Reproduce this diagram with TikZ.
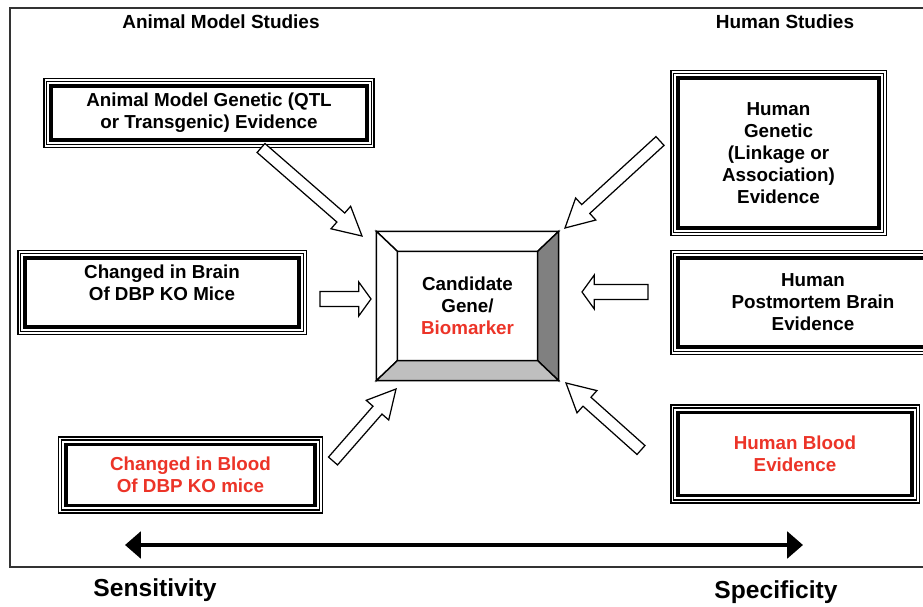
\documentclass[tikz,border=0pt]{standalone}
\usepackage{fontspec}
\setmainfont{Liberation Sans}
\usepackage{tikz}
\usetikzlibrary{calc,arrows.meta,positioning}
\definecolor{hired}{RGB}{236,52,40}

\begin{document}
\begin{tikzpicture}[
    x=0.02cm, y=-0.02cm,
    font=\fontsize{10.7}{12.5}\selectfont\bfseries,
    evidence/.style={
		rectangle,
		draw=black,
		double=white,
		double distance=0.6pt,
		line width=0.9pt,
		align=center,
		text centered,
		fill=white,
		path picture={
		  \draw[line width=1.9pt]
		    ([shift={(3.4pt,-3.4pt)}]path picture bounding box.north west) rectangle
		    ([shift={(-3.4pt,3.4pt)}]path picture bounding box.south east);
		}
	},
	bevel/.style={
		draw=black,
		line width=0.8pt
	},
	hollow/.style n args={3}{
		draw=black,
		line width=0.7pt,
		fill=white,
		to path={
		  ($(\tikztostart)!#1!90:(\tikztotarget)$)
		  -- ($($(\tikztotarget)!#3!(\tikztostart)$)!#1!90:(\tikztotarget)$)
		  -- ($($(\tikztotarget)!#3!(\tikztostart)$)!#2!90:(\tikztotarget)$)
		  -- (\tikztotarget)
		  -- ($($(\tikztotarget)!#3!(\tikztostart)$)!#2!-90:(\tikztotarget)$)
		  -- ($($(\tikztotarget)!#3!(\tikztostart)$)!#1!-90:(\tikztotarget)$)
		  -- ($(\tikztostart)!#1!-90:(\tikztotarget)$)
		  -- cycle
		}
	},
	heading/.style={
		font=\fontsize{10.8}{13}\selectfont\bfseries
	},
	axislabel/.style={
		font=\fontsize{14}{16}\selectfont\bfseries
	}
  ]

\useasboundingbox (0,0) rectangle (923,607);

% // frame
\draw[line width=0.9pt, black!80] (930,8) -- (10,8) -- (10,567) -- (930,567);

\node [heading] (animalhead) at (221,22) {Animal Model Studies};
\node [heading] (humanhead) at (785,22) {Human Studies};

% // animal side
\node [evidence, minimum width=6.56cm, minimum height=1.32cm] (gen) at (209,113)
 {Animal Model Genetic (QTL\\or Transgenic) Evidence};
\node [evidence, minimum width=5.72cm, minimum height=1.62cm,
 label={[align=center, yshift=5.5pt]center:{Changed in Brain\\Of DBP KO Mice}}] (brain) at (162,292.5) {};
\node [evidence, minimum width=5.22cm, minimum height=1.46cm, text=hired] (blood) at (190.5,475)
 {Changed in Blood\\Of DBP KO mice};

% // human side
\node [evidence, minimum width=4.26cm, minimum height=3.24cm] (hgen) at (778.5,153)
 {Human\\Genetic\\(Linkage or\\Association)\\Evidence};
\node [evidence, minimum width=5.64cm, minimum height=2.02cm] (pm) at (813,302.5)
 {Human\\Postmortem Brain\\Evidence};
\node [evidence, minimum width=4.92cm, minimum height=1.9cm, text=hired] (hblood) at (795,454)
 {Human Blood\\Evidence};

% // the candidate
\node [bevel, minimum width=3.62cm, minimum height=2.96cm, align=center] (cand) at (467.5,306)
 {Candidate\\Gene/\\\textcolor{hired}{Biomarker}};
\coordinate (cnw) at ($(cand.north west)+(21,20)$);
\coordinate (cne) at ($(cand.north east)+(-21,20)$);
\coordinate (cse) at ($(cand.south east)+(-21,-20)$);
\coordinate (csw) at ($(cand.south west)+(21,-20)$);
\draw [bevel, fill=white] (cand.north west) -- (cand.north east) -- (cne) -- (cnw) -- cycle;
\draw [bevel, fill=white] (cand.north west) -- (cnw) -- (csw) -- (cand.south west) -- cycle;
\draw [bevel, fill=black!50] (cand.north east) -- (cand.south east) -- (cse) -- (cne) -- cycle;
\draw [bevel, fill=black!25] (cand.south west) -- (csw) -- (cse) -- (cand.south east) -- cycle;

% // hollow arrows
\coordinate (t1) at (261,148);  \coordinate (h1) at (362,236);
\coordinate (t2) at (660,141);  \coordinate (h2) at (565,228);
\coordinate (t3) at (320,299);  \coordinate (h3) at (371,299);
\coordinate (t4) at (648,292);  \coordinate (h4) at (582,292);
\coordinate (t5) at (333,461);  \coordinate (h5) at (396,389);
\coordinate (t6) at (641,450);  \coordinate (h6) at (566,383);

\draw [hollow={3.4pt}{8.5pt}{16pt}] (t1) to (h1);
\draw [hollow={3.4pt}{8.5pt}{16pt}] (t2) to (h2);
\draw [hollow={4.3pt}{9.7pt}{7pt}] (t3) to (h3);
\draw [hollow={4.3pt}{9.7pt}{7pt}] (t4) to (h4);
\draw [hollow={3.4pt}{8.5pt}{16pt}] (t5) to (h5);
\draw [hollow={3.4pt}{8.5pt}{16pt}] (t6) to (h6);

% // sensitivity - specificity
\coordinate (lend) at (125,545);
\coordinate (rend) at (803,545);
\draw [line width=2.6pt, {Triangle[length=9pt,width=15pt]}-{Triangle[length=9pt,width=15pt]}] (lend) -- (rend);
\node [axislabel] (sens) at (155,590) {Sensitivity};
\node [axislabel] (spec) at (776,592) {Specificity};

\end{tikzpicture}
\end{document}
